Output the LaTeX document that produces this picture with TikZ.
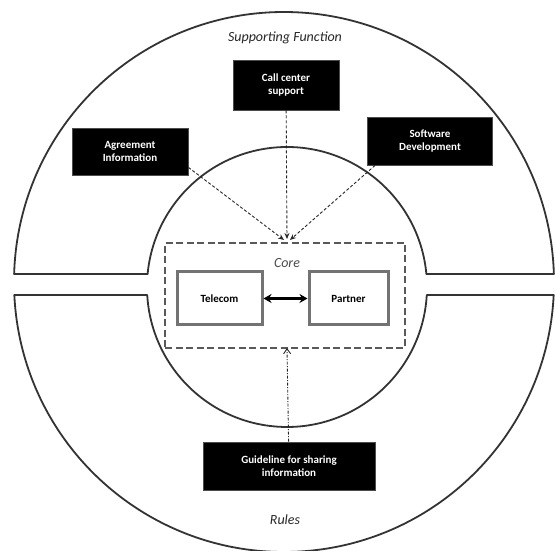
\documentclass[tikz,border=0pt]{standalone}
\usepackage{fontspec}
\setmainfont{Carlito}
\usetikzlibrary{arrows.meta,calc}
\begin{document}
\begin{tikzpicture}[x=1pt,y=1pt,
  ring/.style={draw=black!80,line width=1.8pt,line join=round},
  blackbox/.style={fill=black,draw=black!70,line width=0.8pt,text=white,font=\bfseries\fontsize{11}{13}\selectfont,align=center,inner sep=0pt},
  corebox/.style={draw=black!55,line width=3pt,font=\bfseries\fontsize{11}{13}\selectfont,inner sep=0pt},
  link/.style={draw=black!85,line width=0.9pt,dash pattern=on 3pt off 2pt,-{Stealth[length=6pt,width=5pt]}},
  title/.style={font=\itshape\fontsize{14}{16}\selectfont,text=black!85}]
\useasboundingbox (0,0) rectangle (555,551);
% centres of the two circles
\coordinate (O) at (284,269);
\coordinate (I) at (287,264);
% upper half ring (Supporting Function)
\draw[ring] ($(O)+(178.3:270)$) arc[start angle=178.3,end angle=1.7,radius=270]
  -- ($(I)+(5.33:140)$) arc[start angle=5.33,end angle=174.67,radius=140] -- cycle;
% lower half ring (Rules)
\draw[ring] ($(O)+(182.76:270)$) arc[start angle=182.76,end angle=357.24,radius=270]
  -- ($(I)+(356.72:140)$) arc[start angle=356.72,end angle=183.28,radius=140] -- cycle;
% ring labels
\node[title] (sup) at (285,513) {Supporting Function};
\node[title] (rules) at (285,31) {Rules};
% core area
\node[draw=black!65,line width=2pt,dash pattern=on 7pt off 3.5pt,minimum width=240pt,minimum height=105pt,inner sep=0pt] (core) at (285,255.5) {};
\node[title,font=\itshape\fontsize{14}{16}\selectfont,text=black!70] (corelbl) at (287,288) {Core};
\node[corebox,minimum width=85pt,minimum height=53pt] (tel) at (219.5,252.5) {Telecom};
\node[corebox,minimum width=79pt,minimum height=53pt] (par) at (348.5,252.5) {Partner};
\draw[line width=2.6pt,{Stealth[length=8pt,width=9pt]}-{Stealth[length=8pt,width=9pt]}] (tel) -- (par);
% supporting services
\node[blackbox,minimum width=116pt,minimum height=47pt] (agr) at (130,399.5) {Agreement\\Information};
\node[blackbox,minimum width=106pt,minimum height=50pt] (call) at (286,466) {Call center\\support};
\node[blackbox,minimum width=125pt,minimum height=48pt] (soft) at (430,410) {Software\\Development};
\node[blackbox,minimum width=172pt,minimum height=48pt] (guide) at (289,85) {Guideline for sharing\\information};
% links into the core
\coordinate (hubL) at (284,311);
\coordinate (hubC) at (287,312);
\coordinate (hubR) at (290,311);
\coordinate (hubB) at (287,203);
\draw[link] ([yshift=8pt]agr.south east) -- (hubL);
\draw[link] (call) -- (hubC);
\draw[link] ([xshift=8pt]soft.south west) -- (hubR);
\draw[link,dash pattern=on 3pt off 1.5pt on 1pt off 1.5pt,-{Straight Barb[length=5pt,width=7pt]}] (guide) -- (hubB);
\end{tikzpicture}
\end{document}
